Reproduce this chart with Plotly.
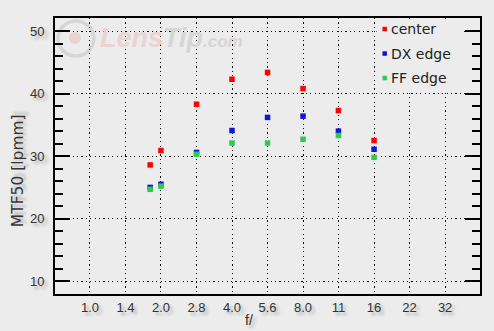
import plotly.graph_objects as go

# ---- data ----
f_numbers = [1.8, 2.0, 2.83, 4.0, 5.66, 8.0, 11.3, 16.0]
center = [28.6, 30.9, 38.3, 42.3, 43.4, 40.8, 37.3, 32.5]
dx_edge = [25.0, 25.5, 30.6, 34.1, 36.2, 36.4, 34.0, 31.1]
ff_edge = [24.7, 25.2, 30.3, 32.1, 32.1, 32.7, 33.3, 29.8]
series_names = ["center", "DX edge", "FF edge"]
series_colors = ["#ff0000", "#1414d8", "#2ecc4a"]
x_tick_vals = [1.0, 1.414, 2.0, 2.828, 4.0, 5.657, 8.0, 11.31, 16.0, 22.63, 32.0]
x_tick_text = ["1.0", "1.4", "2.0", "2.8", "4.0", "5.6", "8.0", "11", "16", "22", "32"]
y_tick_vals = [10, 20, 30, 40, 50]

W, H = 494, 331
L, R, T, B = 55, 12, 18, 37
PW, PH = W - L - R, H - T - B


def px(x):
    return (x - L) / PW


def py(y):
    return (H - B - y) / PH


BG = "#ececec"
TXT = "#333333"
SHADOW = "3px 3px 3px #b0b0b0"

fig = go.Figure()
for name, vals, col in zip(series_names, [center, dx_edge, ff_edge], series_colors):
    fig.add_trace(go.Scatter(
        x=f_numbers, y=vals, mode="markers", name=name,
        marker=dict(symbol="square", size=5.5, color=col, line=dict(width=0)),
        showlegend=False,
    ))

tickfont = dict(family="Liberation Sans, Arial, sans-serif", size=13, color=TXT, shadow=SHADOW)

fig.update_xaxes(
    type="log", range=[-0.148, 1.653],
    tickvals=x_tick_vals, ticktext=x_tick_text, tickfont=tickfont,
    showgrid=True, gridcolor="black", gridwidth=1.2, griddash="1.2px,3.2px",
    showline=True, linecolor="black", linewidth=2, mirror=True,
    ticks="", zeroline=False,
)
fig.update_yaxes(
    range=[7.95, 52.1], tickvals=y_tick_vals, tickfont=tickfont,
    showgrid=True, gridcolor="black", gridwidth=1.2, griddash="1.2px,3.2px",
    showline=True, linecolor="black", linewidth=2, mirror="ticks",
    ticks="inside", ticklen=15, tickwidth=1.5, tickcolor="black",
    minor=dict(ticks="inside", ticklen=8, tickwidth=1.5, tickcolor="black",
               dtick=2, tick0=0, showgrid=False),
    zeroline=False, ticklabelstandoff=6,
)

shapes = []
annotations = []

# watermark logo
shapes.append(dict(type="circle", xref="paper", yref="paper", layer="below",
                   x0=px(58), x1=px(94), y0=py(56), y1=py(21),
                   line=dict(color="#d6d6d6", width=3.5), fillcolor="rgba(0,0,0,0)"))
shapes.append(dict(type="circle", xref="paper", yref="paper", layer="below",
                   x0=px(69), x1=px(81), y0=py(44), y1=py(32),
                   line=dict(width=0), fillcolor="#ecd2d2"))
annotations.append(dict(
    xref="paper", yref="paper", x=px(98), y=py(38), xanchor="left", yanchor="middle",
    showarrow=False,
    text="<b><i><span style='color:#ebd3d3'>Lens</span><span style='color:#d6d6d6'>Tip</span>"
         "<span style='color:#d6d6d6;font-size:17px'>.com</span></i></b>",
    font=dict(family="Liberation Sans, Arial, sans-serif", size=27),
))

# legend background box (hides the grid under the legend)
shapes.append(dict(type="rect", xref="paper", yref="paper", layer="above",
                   x0=px(378), x1=px(466), y0=py(90), y1=py(19.5),
                   line=dict(width=0), fillcolor=BG))

# manual legend
leg_y = [29, 53.5, 78]
for name, col, yy in zip(series_names, series_colors, leg_y):
    shapes.append(dict(type="rect", xref="paper", yref="paper", layer="above",
                       x0=px(384), x1=px(388.5), y0=py(yy + 2.3), y1=py(yy - 2.2),
                       line=dict(width=0), fillcolor=col))
    annotations.append(dict(
        xref="paper", yref="paper", x=px(391), y=py(yy), xanchor="left", yanchor="middle",
        showarrow=False, text=name,
        font=dict(family="DejaVu Sans, sans-serif", size=14, color="#222222"),
    ))

# axis titles
annotations.append(dict(
    xref="paper", yref="paper", x=px(18), y=py(171), xanchor="center", yanchor="middle",
    showarrow=False, text="MTF50 [lpmm]", textangle=-90,
    font=dict(family="DejaVu Sans, sans-serif", size=15.5, color=TXT, shadow=SHADOW),
))
annotations.append(dict(
    xref="paper", yref="paper", x=px(250), y=py(320), xanchor="center", yanchor="middle",
    showarrow=False, text="f/",
    font=dict(family="Liberation Sans, Arial, sans-serif", size=14, color=TXT, shadow=SHADOW),
))

fig.update_layout(
    width=W, height=H, margin=dict(l=L, r=R, t=T, b=B, pad=0),
    paper_bgcolor=BG, plot_bgcolor=BG,
    showlegend=False, shapes=shapes, annotations=annotations,
)

fig.write_html("out.html", config={"displayModeBar": False})
